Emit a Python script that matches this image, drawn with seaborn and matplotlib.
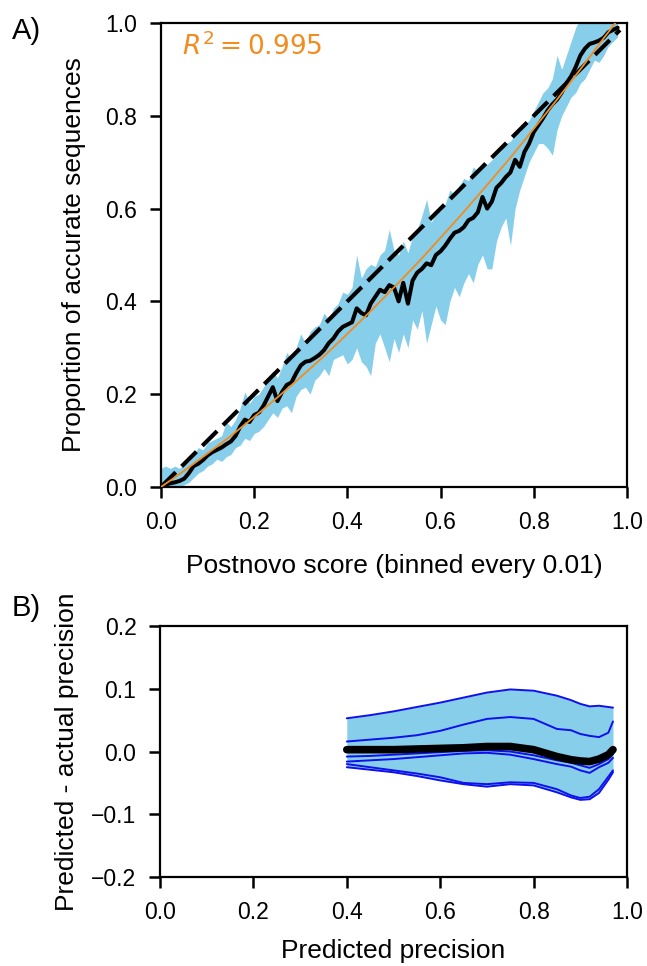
import numpy as np
import pandas as pd
import matplotlib
matplotlib.use("Agg")
import matplotlib.pyplot as plt
import seaborn as sns

# ---------------- Panel A data ----------------
score_bins = [round(0.01 * i, 2) for i in range(99)]
accuracy = [0.000, 0.005, 0.008, 0.010, 0.013, 0.018, 0.030, 0.045, 0.050, 0.058,
            0.068, 0.075, 0.080, 0.085, 0.092, 0.098, 0.110, 0.130, 0.145, 0.140,
            0.155, 0.160, 0.175, 0.195, 0.215, 0.185, 0.205, 0.220, 0.225, 0.245,
            0.262, 0.270, 0.272, 0.278, 0.285, 0.295, 0.310, 0.320, 0.335, 0.345,
            0.350, 0.355, 0.385, 0.375, 0.370, 0.395, 0.410, 0.425, 0.420, 0.435,
            0.430, 0.400, 0.440, 0.395, 0.445, 0.462, 0.470, 0.482, 0.478, 0.500,
            0.508, 0.520, 0.535, 0.548, 0.552, 0.560, 0.575, 0.580, 0.592, 0.625,
            0.600, 0.615, 0.645, 0.655, 0.668, 0.678, 0.705, 0.690, 0.722, 0.740,
            0.765, 0.780, 0.795, 0.812, 0.825, 0.835, 0.850, 0.870, 0.885, 0.905,
            0.930, 0.945, 0.955, 0.958, 0.962, 0.968, 0.980, 0.985, 0.990]
acc_upper = [0.040, 0.045, 0.040, 0.045, 0.040, 0.050, 0.055, 0.070, 0.085, 0.080,
             0.095, 0.100, 0.105, 0.110, 0.140, 0.130, 0.145, 0.170, 0.205, 0.180,
             0.195, 0.200, 0.215, 0.235, 0.250, 0.235, 0.260, 0.290, 0.275, 0.300,
             0.330, 0.310, 0.335, 0.345, 0.350, 0.375, 0.360, 0.385, 0.395, 0.420,
             0.415, 0.430, 0.500, 0.450, 0.470, 0.480, 0.475, 0.500, 0.510, 0.555,
             0.510, 0.500, 0.530, 0.505, 0.540, 0.555, 0.585, 0.620, 0.570, 0.590,
             0.595, 0.610, 0.640, 0.630, 0.650, 0.665, 0.660, 0.690, 0.680, 0.700,
             0.695, 0.705, 0.715, 0.725, 0.740, 0.745, 0.760, 0.765, 0.780, 0.790,
             0.810, 0.830, 0.850, 0.860, 0.880, 0.930, 0.900, 0.930, 0.960, 0.990,
             1.010, 1.030, 1.040, 1.030, 1.040, 1.050, 1.030, 1.020, 1.010]
acc_lower = [0.000, 0.000, 0.000, 0.000, 0.000, 0.005, 0.010, 0.020, 0.030, 0.035,
             0.045, 0.050, 0.060, 0.055, 0.065, 0.070, 0.085, 0.090, 0.105, 0.100,
             0.115, 0.120, 0.130, 0.145, 0.160, 0.150, 0.170, 0.175, 0.160, 0.195,
             0.210, 0.215, 0.200, 0.230, 0.240, 0.255, 0.240, 0.275, 0.280, 0.285,
             0.265, 0.275, 0.300, 0.270, 0.260, 0.240, 0.310, 0.330, 0.300, 0.270,
             0.320, 0.290, 0.330, 0.300, 0.360, 0.340, 0.380, 0.310, 0.350, 0.390,
             0.360, 0.350, 0.400, 0.430, 0.410, 0.440, 0.460, 0.440, 0.480, 0.500,
             0.470, 0.470, 0.530, 0.560, 0.580, 0.520, 0.600, 0.640, 0.670, 0.700,
             0.720, 0.740, 0.740, 0.730, 0.715, 0.770, 0.800, 0.820, 0.840, 0.850,
             0.870, 0.880, 0.900, 0.920, 0.915, 0.930, 0.950, 0.960, 0.970]
fit_x = [0.0, 0.05, 0.1, 0.15, 0.2, 0.25, 0.3, 0.35, 0.4, 0.45, 0.5,
         0.55, 0.6, 0.65, 0.7, 0.75, 0.8, 0.85, 0.9, 0.95, 0.975]
fit_y = [0.0, 0.035, 0.072, 0.110, 0.151, 0.193, 0.237, 0.282, 0.330, 0.379, 0.430,
         0.482, 0.537, 0.593, 0.651, 0.710, 0.772, 0.835, 0.900, 0.967, 1.0]
ideal_x = [0.0, 0.985]
ideal_y = [0.0, 0.985]
r2_label = "$R^2 = 0.995$"

# ---------------- Panel B data ----------------
pred_prec = [0.40, 0.45, 0.50, 0.55, 0.60, 0.65, 0.70, 0.75, 0.80, 0.85,
             0.88, 0.90, 0.92, 0.94, 0.96, 0.97]
diff_runs = {
    "run1": [0.053, 0.058, 0.064, 0.071, 0.078, 0.086, 0.094, 0.099, 0.097, 0.089,
             0.082, 0.076, 0.072, 0.073, 0.071, 0.070],
    "run2": [0.016, 0.019, 0.022, 0.026, 0.033, 0.043, 0.052, 0.055, 0.052, 0.036,
             0.034, 0.028, 0.025, 0.023, 0.030, 0.048],
    "run3": [-0.008, -0.007, -0.005, -0.003, -0.001, 0.001, 0.002, 0.000, -0.006, -0.014,
             -0.018, -0.022, -0.026, -0.020, -0.012, -0.004],
    "run4": [-0.016, -0.014, -0.012, -0.009, -0.006, -0.003, -0.002, -0.005, -0.012, -0.020,
             -0.024, -0.030, -0.034, -0.025, -0.018, -0.010],
    "run5": [-0.020, -0.025, -0.030, -0.035, -0.041, -0.050, -0.052, -0.049, -0.050, -0.060,
             -0.070, -0.074, -0.072, -0.060, -0.040, -0.030],
    "run6": [-0.025, -0.029, -0.033, -0.039, -0.046, -0.052, -0.056, -0.052, -0.054, -0.065,
             -0.073, -0.077, -0.076, -0.066, -0.045, -0.033],
}
diff_mean = [0.003, 0.003, 0.003, 0.004, 0.005, 0.006, 0.008, 0.008, 0.003, -0.008,
             -0.013, -0.015, -0.016, -0.012, -0.005, 0.003]

# ---------------- Style ----------------
sns.set_style("ticks")
plt.rcParams['font.family'] = ['Liberation Sans', 'DejaVu Sans']
plt.rcParams['mathtext.fontset'] = 'dejavusans'
for key in ("text.color", "axes.labelcolor", "xtick.color", "ytick.color",
            "axes.edgecolor"):
    plt.rcParams[key] = "black"

band_color = "#87CEEB"
run_color = "#1010EE"
fit_color = "#F28C1E"

fig = plt.figure(figsize=(6.47, 9.66), dpi=100)
axA = fig.add_axes([0.2488, 0.4959, 0.7202, 0.4803])
axB = fig.add_axes([0.2473, 0.0921, 0.7218, 0.2598])

# Panel A
dfA = pd.DataFrame({"score": score_bins, "acc": accuracy,
                    "lo": acc_lower, "hi": acc_upper})
axA.fill_between(dfA["score"], dfA["lo"], dfA["hi"], color=band_color, lw=0, zorder=1)
sns.lineplot(x=ideal_x, y=ideal_y, ax=axA, color="black", lw=3.0,
             linestyle=(0, (5, 2)), zorder=3)
sns.lineplot(data=dfA, x="score", y="acc", ax=axA, color="black", lw=2.9, zorder=4)
sns.lineplot(x=fit_x, y=fit_y, ax=axA, color=fit_color, lw=1.3, zorder=5)
axA.text(0.045, 0.980, r2_label, transform=axA.transAxes, color=fit_color,
         fontsize=19, va="top", ha="left", family="DejaVu Sans")
axA.set_xlim(0, 1)
axA.set_ylim(0, 1)
axA.set_xticks([0, 0.2, 0.4, 0.6, 0.8, 1.0])
axA.set_yticks([0, 0.2, 0.4, 0.6, 0.8, 1.0])
axA.set_xlabel("Postnovo score (binned every 0.01)", fontsize=19, labelpad=15)
axA.set_ylabel("Proportion of accurate sequences", fontsize=19, labelpad=14)

# Panel B
runs_arr = np.array(list(diff_runs.values()))
axB.fill_between(pred_prec, runs_arr.min(axis=0), runs_arr.max(axis=0),
                 color=band_color, lw=0, zorder=1)
for name, vals in diff_runs.items():
    sns.lineplot(x=pred_prec, y=vals, ax=axB, color=run_color, lw=1.4, zorder=2)
sns.lineplot(x=pred_prec, y=diff_mean, ax=axB, color="black", lw=5.5, zorder=3)
axB.set_xlim(0, 1)
axB.set_ylim(-0.2, 0.2)
axB.set_xticks([0, 0.2, 0.4, 0.6, 0.8, 1.0])
axB.set_yticks([-0.2, -0.1, 0.0, 0.1, 0.2])
axB.set_yticklabels(["\u22120.2", "\u22120.1", "0.0", "0.1", "0.2"])
axB.set_xlabel("Predicted precision", fontsize=19, labelpad=11)
axB.set_ylabel("Predicted - actual precision", fontsize=19, labelpad=9)

for ax in (axA, axB):
    for s in ax.spines.values():
        s.set_linewidth(1.6)
        s.set_color("black")
    ax.tick_params(axis="both", which="major", direction="out", length=8,
                   width=1.8, labelsize=16.5, pad=9, color="black",
                   labelcolor="black", top=False, right=False)
    ax.set_xticklabels([f"{t:.1f}" for t in ax.get_xticks()])

axA.set_yticklabels([f"{t:.1f}" for t in axA.get_yticks()])

fig.text(0.018, 0.982, "A)", fontsize=21, ha="left", va="top")
fig.text(0.018, 0.385, "B)", fontsize=21, ha="left", va="top")

fig.savefig("out.png", dpi=100)
